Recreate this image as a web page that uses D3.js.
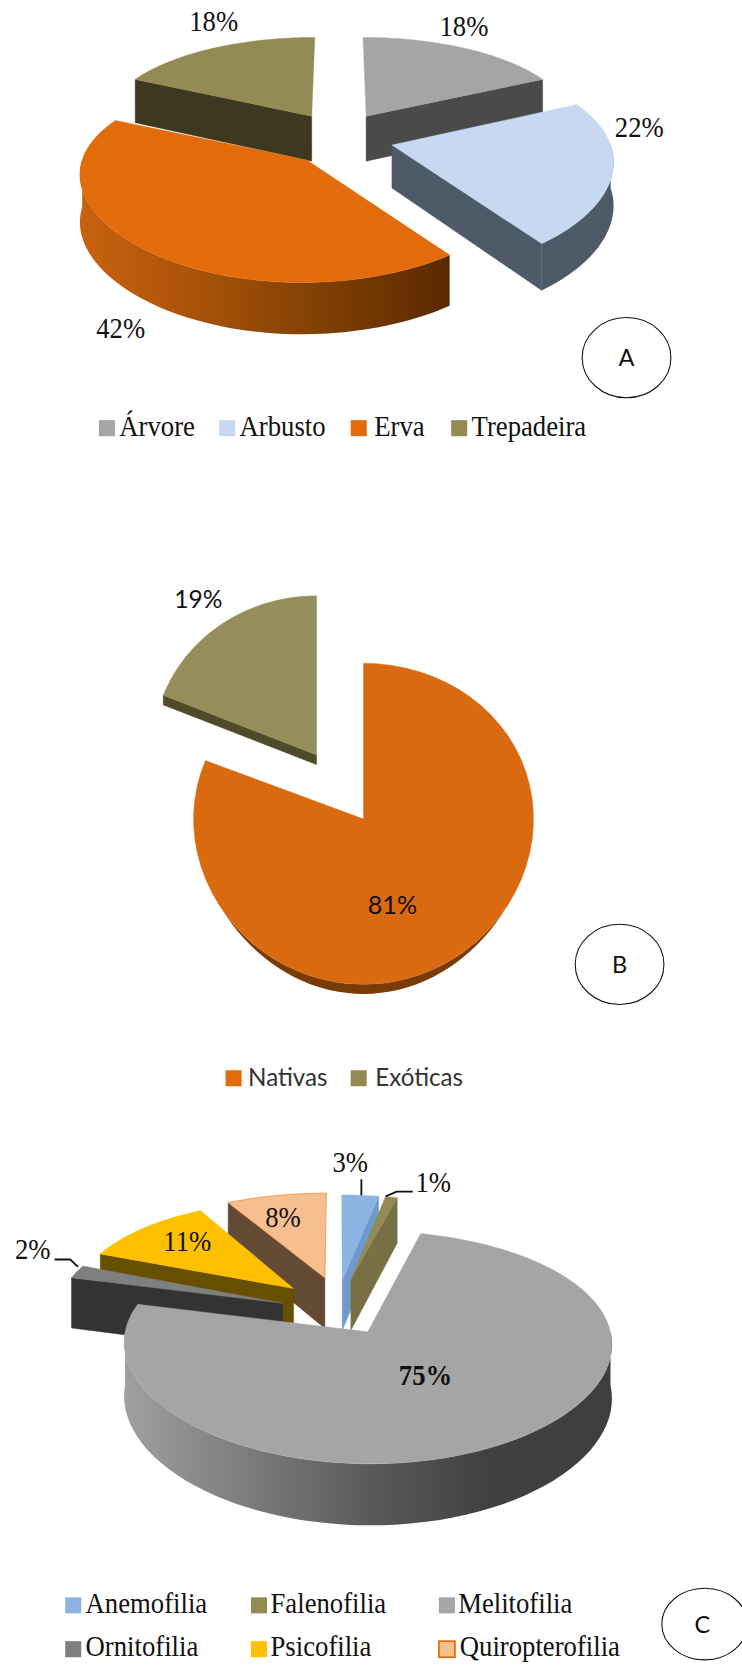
<!DOCTYPE html>
<html><head><meta charset="utf-8">
<script src="https://d3js.org/d3.v7.min.js"></script>
<style>html,body{margin:0;padding:0;background:#fff}svg{display:block}</style>
</head><body><div id="c"></div>
<script>
// ---- data ----
const habitoCategorias = ["Árvore","Arbusto","Erva","Trepadeira"];
const habitoValores = [18,22,42,18];
const origemCategorias = ["Nativas","Exóticas"];
const origemValores = [81,19];
const polinCategorias = ["Anemofilia","Falenofilia","Melitofilia","Ornitofilia","Psicofilia","Quiropterofilia"];
const polinValores = [3,1,75,2,11,8];

// ---- styling ----
const habitoTop = ["#a5a5a5","#c6d9f1","#e36c0a","#948a54"];
const habitoWall = ["#4a4a4a","#4f5a68","#a04c06","#3e3820"];
const origemTop = ["#da6a10","#968e5a"];
const origemWall = ["#7a3c06","#4e4a2a"];
const polinTop = ["#8db3e2","#948a54","#a5a5a5","#7f7f7f","#ffc000","#f7bf90"];
const polinWall = ["#6f98cf","#777044","#666666","#333333","#665000","#634a35"];

const W=742,H=1677,K=W/694;
const svg=d3.select("#c").append("svg").attr("width",W).attr("height",H);
const defs=svg.append("defs");
const root=svg.append("g").attr("transform",`scale(${K})`);
const SERIF="'Liberation Serif',serif", SANS="Lato,'Noto Sans',sans-serif";
const line=d3.line();
const rad=d3.scaleLinear().domain([0,360]).range([0,2*Math.PI]);

function drawPie(o){
  const arcs=d3.pie().sort(null)(o.values);
  const g=root.append("g");
  const topC=d3.scaleOrdinal(o.cats,o.top), wallC=d3.scaleOrdinal(o.cats,o.wall);
  o.order.forEach(i=>{
    const a=arcs[i], mid=(a.startAngle+a.endAngle)/2, e=o.explode[i];
    const rs=(o.rs&&o.rs[i])||1, rsY=(o.rsY&&o.rsY[i])||1, nudge=(o.nudge&&o.nudge[i])||[0,0];
    const h=(o.hs&&o.hs[i])||o.h;
    const ex=e*Math.sin(mid), ey=e*Math.cos(mid);
    const P=(t,r,down)=>{
      const X=ex+r*rs*Math.sin(t), Y=ey+r*rs*rsY*Math.cos(t);
      const sx=o.cx+o.s*X/(1+o.kx*Y), sy=o.cy-o.a*Y/(1+o.ky*Y);
      return [sx+nudge[0], sy+nudge[1]+down*h/(1+o.kh*Y)];
    };
    const sample=(t0,t1)=>d3.range(0,61).map(j=>t0+(t1-t0)*j/60);
    const wallAt=t=>line([P(t,0,0),P(t,1,0),P(t,1,1),P(t,0,1)])+"Z";
    const col=wallC(o.cats[i]);
    if(Math.sin(a.startAngle)<-1e-6) g.append("path").attr("d",wallAt(a.startAngle)).attr("fill",col).attr("stroke",col).attr("stroke-width",.4);
    if(Math.sin(a.endAngle)>1e-6) g.append("path").attr("d",wallAt(a.endAngle)).attr("fill",col).attr("stroke",col).attr("stroke-width",.4);
    const t0=Math.max(a.startAngle,rad(90)), t1=Math.min(a.endAngle,rad(270));
    if(t1>t0){
      const ts=sample(t0,t1);
      const m=t=>o.taper?Math.max(0,Math.cos((t-Math.PI)*o.taper)):1;
      const pts=ts.map(t=>P(t,1,0)).concat(ts.slice().reverse().map(t=>P(t,1,m(t))));
      let fill=col;
      const gr=o.grad&&o.grad[i];
      if(gr){
        const id=`g${o.name}${i}`;
        const lg=defs.append("linearGradient").attr("id",id).attr("gradientUnits","userSpaceOnUse")
          .attr("x1",gr.x[0]).attr("x2",gr.x[1]).attr("y1",0).attr("y2",0);
        gr.stops.forEach((s,k)=>lg.append("stop").attr("offset",k/(gr.stops.length-1)).attr("stop-color",s));
        fill=`url(#${id})`;
      }
      g.append("path").attr("d",line(pts)+"Z").attr("fill",fill);
    }
    const topPts=[P(0,0,0)].concat(sample(a.startAngle,a.endAngle).map(t=>P(t,1,0)));
    g.append("path").attr("d",line(topPts)+"Z").attr("fill",topC(o.cats[i]))
      .attr("stroke",o.stroke&&o.stroke[i]||topC(o.cats[i])).attr("stroke-width",o.stroke&&o.stroke[i]?.7:.4);
  });
}
function label(t,x,y,size,font,weight,fill){
  const stretch=font===SERIF?1.12:1;
  root.append("text").attr("transform",`translate(${x},${y}) scale(1,${stretch})`).attr("font-size",size).attr("font-family",font)
    .attr("font-weight",weight||400).attr("fill",fill||"#111").text(t);
}
function swatch(x,y,c,st){
  root.append("rect").attr("x",x).attr("y",y).attr("width",15).attr("height",15).attr("fill",c)
    .attr("stroke",st||"none").attr("stroke-width",st?1.6:0);
}
function badge(cx,cy,rx,ry,t,tx){
  root.append("ellipse").attr("cx",cx).attr("cy",cy).attr("rx",rx).attr("ry",ry).attr("fill","#fff").attr("stroke","#111").attr("stroke-width",1);
  root.append("text").attr("x",tx||cx).attr("y",cy+8).attr("text-anchor","middle").attr("font-family",SANS).attr("font-size",22).attr("fill","#111").text(t);
}
function leader(pts){root.append("path").attr("d",line(pts)).attr("fill","none").attr("stroke","#111").attr("stroke-width",1.7);}

// Chart A
drawPie({name:"A",cats:habitoCategorias,values:habitoValores,top:habitoTop,wall:habitoWall,
  cx:317,cy:127,s:203,a:94,kx:.13,ky:.19,h:43,kh:.1,
  explode:[.24,.24,.235,.24],rs:[.98,1,1.01,.98],rsY:[1.02,1,.92,1.02],hs:[43,40,43,43],
  nudge:{1:[2,3],2:[1,5]},order:[3,0,1,2],
  grad:{2:{x:[72,418],stops:["#c9620f","#a85208","#7f3f03","#5a2a00"]}}});
[["18%",177,29],["18%",411,34],["22%",575,128.5],["42%",90,316.5]].forEach(d=>label(d[0],d[1],d[2],25,SERIF));
badge(586,334.5,41.5,37.5,"A");
[[92.5,111.6],[205,224],[328,350],[422,441]].forEach((p,i)=>{
  swatch(p[0],393,habitoTop[i]); label(habitoCategorias[i],p[1],408,25,SERIF);
});

// Chart B
drawPie({name:"B",cats:origemCategorias,values:origemValores,top:origemTop,wall:origemWall,
  cx:340,cy:766,s:159,a:150,kx:0,ky:.03,h:9,kh:0,taper:1.6,
  explode:[0,.48],rs:[1,.97],rsY:[1,1.08],hs:[9,9],nudge:{1:[-1,-1]},order:[1,0]});
label("19%",163,569,23,SANS); label("81%",344,855,23.5,SANS);
badge(579.5,902,41.5,37.5,"B");
[[211,232],[328,351]].forEach((p,i)=>{
  swatch(p[0],1001,i?"#948a54":"#e36c0a"); label(origemCategorias[i],p[1],1016,22.6,SANS,400,"#333");
});

// Chart C
drawPie({name:"C",cats:polinCategorias,values:polinValores,top:polinTop,wall:polinWall,
  cx:320,cy:1225,s:222,a:106,kx:.1,ky:.134,h:49,kh:.13,
  explode:[.3,.3,.2,.28,.29,.3],rs:[.93,.9,1.005,.955,.93,.95],rsY:[.98,1,.96,1,.98,.95],
  nudge:{0:[-6,3],1:[-6,2],2:[1,2],3:[3,3],4:[2,0]},order:[5,4,3,0,1,2],
  grad:{2:{x:[116,574],stops:["#a0a0a0","#7c7c7c","#5a5a5a","#404040","#3e3e3e"]}},
  stroke:{5:"#e98a3c"}});
leader([[338,1103],[338,1118]]);
leader([[360.7,1119],[371,1114.5],[386,1114.5]]);
leader([[51,1178],[65.6,1178],[73,1185]]);
[["3%",311,1096.5],["1%",388.6,1115],["2%",14,1178],["11%",152.7,1170],["8%",248,1148]].forEach(d=>label(d[0],d[1],d[2],25,SERIF));
label("75%",373,1295,25,SERIF,700);
badge(659,1519,40,33.5,"C",657);
const colX=[[61,80],[234.7,253],[410.5,428.5]];
polinCategorias.forEach((c,i)=>{
  const col=colX[i%3], row=i<3?0:1;
  swatch(col[0],row?1535:1494,i==5?"#fac090":polinTop[i],i==5?"#e36c0a":null);
  label(c,col[1]+(i==5?1.5:0),row?1549:1508.5,25,SERIF);
});
</script></body></html>
